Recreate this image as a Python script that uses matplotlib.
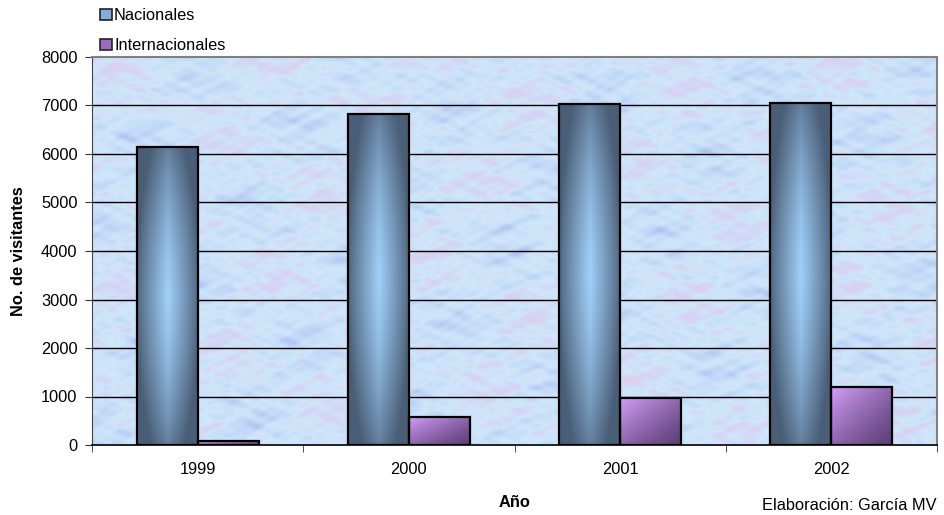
import numpy as np
import matplotlib.pyplot as plt
from matplotlib.colors import LinearSegmentedColormap, to_rgb
from matplotlib.patches import Rectangle

plt.rcParams['font.family'] = ['Liberation Sans', 'DejaVu Sans']

years = ["1999", "2000", "2001", "2002"]
nacionales = [6140, 6830, 7030, 7050]
internacionales = [90, 580, 975, 1200]
series_names = ["Nacionales", "Internacionales"]

W, H = 944, 515
bar_w = 0.289
fs = 11.8


def mix(c1, c2, w):
    c1 = np.array(to_rgb(c1))
    c2 = np.array(to_rgb(c2))
    return c1[None, None, :] * (1 - w[..., None]) + c2[None, None, :] * w[..., None]


def nac_image(n=120):
    u = np.linspace(0, 1, n)[None, :]
    v = np.linspace(0, 1, n)[:, None]
    spread = 0.55 + 0.5 * (1 - np.abs(2 * v - 1) ** 2)
    w = np.clip(1 - np.abs(2 * u - 1) / spread, 0, 1) ** 0.9
    w = w * (0.3 + 0.7 * (1 - np.abs(2 * v - 1) ** 1.6))
    return mix("#4a5e77", "#a0cff9", w)


def int_image(n=80):
    u = np.linspace(0, 1, n)[None, :]
    v = np.linspace(0, 1, n)[:, None]
    w = np.clip(1 - (u + v) / 2, 0, 1) ** 1.2
    return mix("#5c3f78", "#d49ef8", w)


def gradient_bar(ax, x0, width, height, img):
    rect = Rectangle((x0, 0), width, height, facecolor="none",
                     edgecolor="black", lw=1.6, zorder=4)
    ax.add_patch(rect)
    im = ax.imshow(img, extent=[x0, x0 + width, 0, height], origin="upper",
                   aspect="auto", zorder=3, interpolation="bilinear")
    im.set_clip_path(rect)


fig = plt.figure(figsize=(W / 100, H / 100), dpi=100)
# plot area: x 92..937, y 57..445 (pixels)
ax = fig.add_axes([92 / W, (H - 445) / H, 845 / W, 388 / H])

# mottled background texture (deterministic pattern, decoration only)
gx, gy = np.meshgrid(np.linspace(0, 1, 500), np.linspace(0, 1, 240))
tex = (np.sin(37 * gx + 11 * gy) + np.sin(23 * gy - 29 * gx + 1.3)
       + 0.8 * np.sin(61 * gx * gy + 53 * gy) + 0.7 * np.sin(97 * gx + 83 * gy + 2)
       + 0.6 * np.sin(131 * gy - 71 * gx) + 0.6 * np.sin(173 * gx + 5 * np.sin(40 * gy))
       + 0.6 * np.sin(157 * gy + 4 * np.sin(50 * gx)) + 0.5 * np.sin(211 * gx - 197 * gy)
       + 0.5 * np.sin(263 * gx + 241 * gy + 3 * np.sin(30 * gx)))
tex = (tex - tex.min()) / (tex.max() - tex.min())
bg_cmap = LinearSegmentedColormap.from_list(
    "bg", ["#aebff2", "#c2d8f7", "#cfe7fa", "#d4d4f4", "#e3cdee"])
ax.imshow(tex, cmap=bg_cmap, extent=[-0.5, 3.5, 0, 8000], aspect="auto",
          zorder=0, interpolation="bilinear")

for y in range(1000, 8000, 1000):
    ax.axhline(y, color="black", lw=1, zorder=1)

for i in range(len(years)):
    gradient_bar(ax, i - bar_w, bar_w, nacionales[i], nac_image())
    gradient_bar(ax, i, bar_w, internacionales[i], int_image())

ax.set_xlim(-0.5, 3.5)
ax.set_ylim(0, 8000)
ax.set_yticks(range(0, 8001, 1000))
ax.set_xticks(range(len(years)))
ax.set_xticklabels(years)
ax.set_xticks([-0.5, 0.5, 1.5, 2.5, 3.5], minor=True)
ax.tick_params(axis="x", which="major", length=0, pad=12, labelsize=fs)
ax.tick_params(axis="x", which="minor", length=5, direction="out", color="#333333")
ax.tick_params(axis="y", length=5, pad=5.5, direction="out", labelsize=fs, color="#333333")

for side in ["top", "right"]:
    ax.spines[side].set_color("#808080")
    ax.spines[side].set_linewidth(1.5)
ax.spines["left"].set_color("#444444")
ax.spines["bottom"].set_color("black")
ax.spines["bottom"].set_linewidth(1.2)

ax.set_ylabel("No. de visitantes", fontsize=fs, fontweight="bold", va="center")
ax.yaxis.set_label_coords((18.5 - 92) / 845, 0.5)
ax.set_xlabel("Año", fontsize=fs, fontweight="bold", va="baseline")
ax.xaxis.set_label_coords(0.5, -(507 - 445) / 388)

# legend at top left
leg_colors = ["#7fb0e0", "#9a6cc0"]
leg_base = [20, 50]
for name, col, yb in zip(series_names, leg_colors, leg_base):
    fig.patches.append(Rectangle((100 / W, 1 - yb / H), 12 / W, 11 / H,
                                 transform=fig.transFigure, facecolor=col,
                                 edgecolor="#222222", lw=1.2))
    fig.text(114 / W, 1 - yb / H, name, fontsize=fs, va="baseline", ha="left")

fig.text(936 / W, 1 - 510 / H, "Elaboración: García MV", fontsize=fs,
         ha="right", va="baseline")

fig.savefig("out.png", dpi=100)
